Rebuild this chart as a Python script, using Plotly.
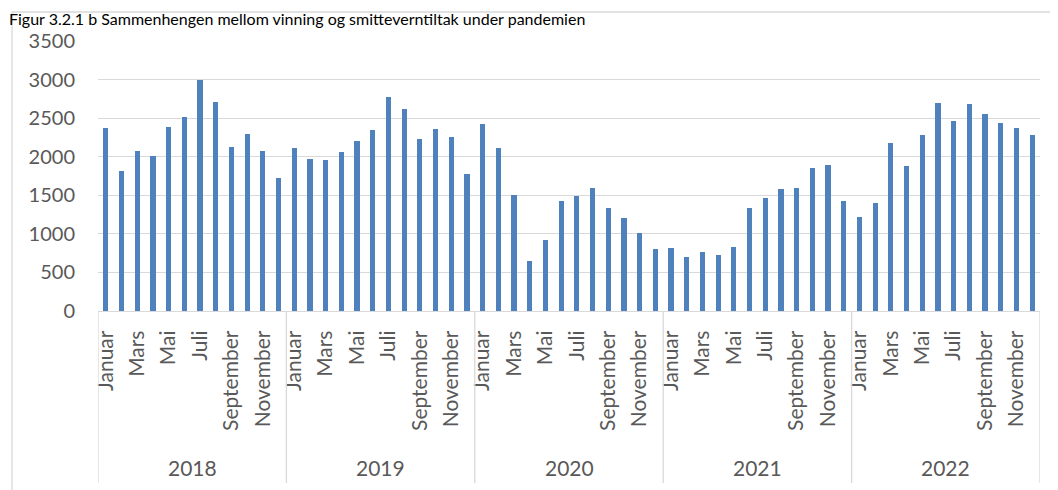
import plotly.graph_objects as go

years = ["2018", "2019", "2020", "2021", "2022"]
months = ["Januar", "Februar", "Mars", "April", "Mai", "Juni", "Juli",
          "August", "September", "Oktober", "November", "Desember"]

v2018 = [2370, 1820, 2070, 2010, 2380, 2520, 3000, 2710, 2130, 2290, 2070, 1730]
v2019 = [2110, 1970, 1960, 2060, 2210, 2340, 2780, 2620, 2230, 2360, 2260, 1780]
v2020 = [2430, 2110, 1500, 650, 920, 1420, 1490, 1600, 1340, 1200, 1010, 810]
v2021 = [820, 700, 770, 720, 830, 1330, 1460, 1580, 1600, 1860, 1890, 1420]
v2022 = [1220, 1400, 2180, 1880, 2280, 2690, 2460, 2680, 2560, 2440, 2370, 2280]

title_text = "Figur 3.2.1 b Sammenhengen mellom vinning og smitteverntiltak under pandemien"

values = v2018 + v2019 + v2020 + v2021 + v2022
x = list(range(len(values)))
tickvals = [i for i in x if (i % 12) % 2 == 0]
ticktext = [months[i % 12] for i in tickvals]

FONT = "Lato"
GRAY = "#595959"
LINE = "#d9d9d9"

# The page body has an 8px margin, so the figure is drawn 8px in/down.
OFF = 8
W, H = 1058 - OFF, 490 - OFF
# plot area in page pixels: x 98..1040, y 41..311
L = 98 - OFF
T = 41 - OFF
R = W - (1040 - OFF)
B = H - (311 - OFF)
PH = H - T - B
PW = W - L - R


def py(p):  # page pixel y -> paper fraction
    return (H - B - (p - OFF)) / PH


def px(p):  # page pixel x -> paper fraction
    return ((p - OFF) - L) / PW


fig = go.Figure(go.Bar(x=x, y=values, marker_color="#4F81BD",
                       marker_line_width=0, width=0.33))

shapes = []
# outer chart frame
shapes.append(dict(type="rect", xref="paper", yref="paper",
                   x0=px(12), x1=px(1075), y0=py(505), y1=py(12),
                   line=dict(color=LINE, width=1.3), layer="below"))
# year dividers
for k in range(len(years) + 1):
    shapes.append(dict(type="line", xref="x", yref="paper",
                       x0=k * 12 - 0.5, x1=k * 12 - 0.5, y0=0, y1=py(483),
                       line=dict(color=LINE, width=1.3)))

annotations = []
for k, yr in enumerate(years):
    annotations.append(dict(x=k * 12 + 5.5, y=py(467), xref="x", yref="paper",
                            text=yr, showarrow=False, yanchor="middle",
                            font=dict(family=FONT, size=21, color=GRAY)))
annotations.append(dict(x=px(OFF), y=py(OFF), xref="paper", yref="paper",
                        text=title_text, showarrow=False, xanchor="left",
                        yanchor="top", borderpad=0,
                        font=dict(family=FONT, size=16, color="black")))

fig.update_layout(
    width=W, height=H,
    margin=dict(l=L, r=R, t=T, b=B, autoexpand=False),
    paper_bgcolor="white", plot_bgcolor="white",
    showlegend=False,
    bargap=0,
    shapes=shapes, annotations=annotations,
    xaxis=dict(range=[-0.5, 59.5], tickmode="array", tickvals=tickvals,
               ticktext=ticktext, tickangle=-90, showgrid=False,
               showline=True, linecolor=LINE, linewidth=1.3, ticks="",
               zeroline=False, ticklabelstandoff=10, automargin=False,
               tickfont=dict(family=FONT, size=21, color=GRAY)),
    yaxis=dict(range=[0, 3500], dtick=500, tick0=0, gridcolor=LINE,
               gridwidth=1.3, showline=False, zeroline=False, ticks="",
               ticklabelstandoff=22, automargin=False,
               tickfont=dict(family=FONT, size=20, color=GRAY)),
)

fig.write_html("out.html")
